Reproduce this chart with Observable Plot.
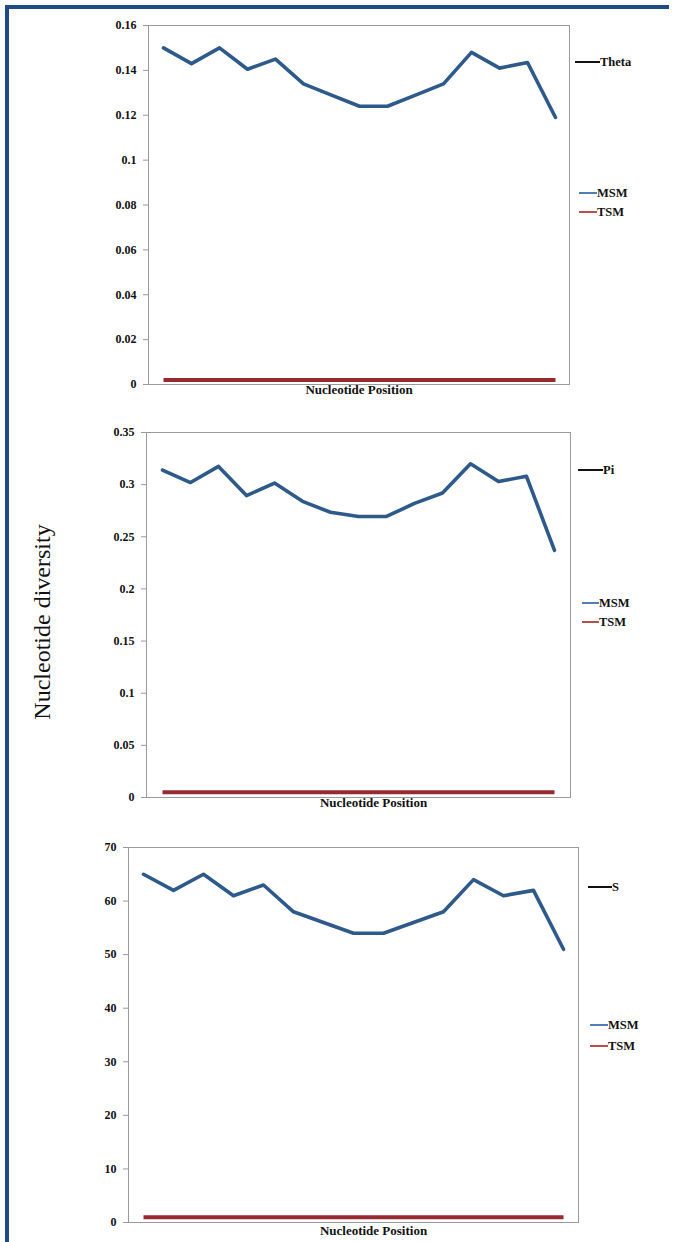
<!DOCTYPE html>
<html><head><meta charset="utf-8">
<script src="https://cdn.jsdelivr.net/npm/d3@7"></script>
<script src="https://cdn.jsdelivr.net/npm/@observablehq/plot@0.6"></script>
<style>
body{margin:0;background:#fff;width:673px;height:1242px;position:relative;overflow:hidden;font-family:'Liberation Serif','DejaVu Serif','Times New Roman',Times,serif}
.abs{position:absolute}
.leg{position:absolute;font-weight:bold;font-size:12.5px;display:flex;align-items:center;height:14px;line-height:14px;white-space:nowrap;color:#111;font-family:'Liberation Serif','DejaVu Serif',serif}
.leg .sw{display:inline-block;height:2px}
.ytitle{position:absolute;left:42px;top:622px;transform:translate(-50%,-50%) rotate(-90deg);font-size:24px;white-space:nowrap;color:#111;font-family:'Liberation Serif','DejaVu Serif',serif}
</style></head><body>
<script>
(function(){
// ---- data ----
const positions = [1,2,3,4,5,6,7,8,9,10,11,12,13,14,15];
const thetaMSM = [0.150,0.143,0.150,0.1405,0.145,0.134,0.129,0.124,0.124,0.129,0.134,0.148,0.141,0.1435,0.119];
const thetaTSM = [0.002,0.002,0.002,0.002,0.002,0.002,0.002,0.002,0.002,0.002,0.002,0.002,0.002,0.002,0.002];
const piMSM = [0.314,0.302,0.3175,0.2895,0.3015,0.284,0.2735,0.2695,0.2695,0.282,0.292,0.320,0.303,0.308,0.237];
const piTSM = [0.005,0.005,0.005,0.005,0.005,0.005,0.005,0.005,0.005,0.005,0.005,0.005,0.005,0.005,0.005];
const sMSM = [65,62,65,61,63,58,56,54,54,56,58,64,61,62,51];
const sTSM = [1,1,1,1,1,1,1,1,1,1,1,1,1,1,1];
const thetaTicks = [0,0.02,0.04,0.06,0.08,0.1,0.12,0.14,0.16];
const piTicks = [0,0.05,0.1,0.15,0.2,0.25,0.3,0.35];
const sTicks = [0,10,20,30,40,50,60,70];
const statNames = ["Theta","Pi","S"];
const seriesNames = ["MSM","TSM"];
const xTitle = "Nucleotide Position";
const yTitle = "Nucleotide diversity";

// ---- layout / style ----
const W = 673;
const FONT = "'Liberation Serif','DejaVu Serif','Times New Roman',serif";
const colors = {MSM:"#2d5a8a", TSM:"#962a30"};
const legendColors = {stat:"#111", MSM:"#4f7fb4", TSM:"#b8504c"};
const layouts = [
  {frame:{left:148,right:569,top:25,bottom:384}, mb:22, titleDx:0, titleDy:9,
   leg:{statX:575,statW:25,statY:62,serX:579,serW:18,msmY:193,tsmY:212}},
  {frame:{left:146,right:570,top:432,bottom:797}, mb:22, titleDx:15, titleDy:9,
   leg:{statX:578,statW:25,statY:470,serX:582,serW:17,msmY:603,tsmY:622}},
  {frame:{left:128,right:578,top:847,bottom:1222}, mb:20, titleDx:20, titleDy:12,
   leg:{statX:588,statW:24,statY:887,serX:590,serW:18,msmY:1025,tsmY:1046}}
];
const panelData = [
  {msm:thetaMSM, tsm:thetaTSM, ticks:thetaTicks},
  {msm:piMSM, tsm:piTSM, ticks:piTicks},
  {msm:sMSM, tsm:sTSM, ticks:sTicks}
];

// borders
const bTop = document.createElement("div");
bTop.className="abs"; Object.assign(bTop.style,{left:"5px",top:"5px",width:"664px",height:"4px",background:"#1f4a86"});
document.body.appendChild(bTop);
const bLeft = document.createElement("div");
bLeft.className="abs"; Object.assign(bLeft.style,{left:"5px",top:"5px",width:"4px",height:"1237px",background:"#1f4a86"});
document.body.appendChild(bLeft);

const mt = 12;
panelData.forEach((p, i) => {
  const L = layouts[i], f = L.frame;
  const rows = [];
  positions.forEach((pos, k) => {
    rows.push({pos, value:p.msm[k], series:"MSM"});
    rows.push({pos, value:p.tsm[k], series:"TSM"});
  });
  const chart = Plot.plot({
    width: W,
    height: mt + (f.bottom - f.top) + L.mb,
    marginLeft: f.left,
    marginRight: W - f.right,
    marginTop: mt,
    marginBottom: L.mb,
    style: {fontFamily:FONT, fontSize:"12px", fontWeight:"bold", color:"#111", background:"transparent", overflow:"visible"},
    x: {type:"point", domain:positions, padding:0.5, axis:null},
    y: {domain:[0, p.ticks[p.ticks.length-1]], axis:null},
    marks: [
      Plot.frame({stroke:"#9a9a9a"}),
      Plot.axisY({ticks:p.ticks, tickSize:5, tickPadding:7, stroke:"#9a9a9a", fill:"#111", tickFormat:d => String(d), label:null, fontFamily:FONT}),
      Plot.lineY(rows.filter(r => r.series==="TSM"), {x:"pos", y:"value", stroke:colors.TSM, strokeWidth:4, strokeLinecap:"butt"}),
      Plot.lineY(rows.filter(r => r.series==="MSM"), {x:"pos", y:"value", stroke:colors.MSM, strokeWidth:3.6, strokeLinejoin:"round"}),
      Plot.text([xTitle], {frameAnchor:"bottom", dx:L.titleDx, dy:L.titleDy, fontSize:13, fontWeight:"bold", fill:"#111", fontFamily:FONT})
    ]
  });
  const wrap = document.createElement("div");
  wrap.className = "abs";
  wrap.style.left = "0px";
  wrap.style.top = (f.top - mt) + "px";
  wrap.appendChild(chart);
  document.body.appendChild(wrap);

  // legend
  const mk = (x, y, w, color, text) => {
    const d = document.createElement("div");
    d.className = "leg";
    d.style.left = x + "px";
    d.style.top = (y - 7) + "px";
    const sw = document.createElement("span");
    sw.className = "sw"; sw.style.width = w + "px"; sw.style.background = color;
    d.appendChild(sw);
    d.appendChild(document.createTextNode(text));
    document.body.appendChild(d);
  };
  const g = L.leg;
  mk(g.statX, g.statY, g.statW, legendColors.stat, statNames[i]);
  mk(g.serX, g.msmY, g.serW, legendColors.MSM, seriesNames[0]);
  mk(g.serX, g.tsmY, g.serW, legendColors.TSM, seriesNames[1]);
});

const yt = document.createElement("div");
yt.className = "ytitle";
yt.textContent = yTitle;
document.body.appendChild(yt);
})();
</script>
</body></html>
